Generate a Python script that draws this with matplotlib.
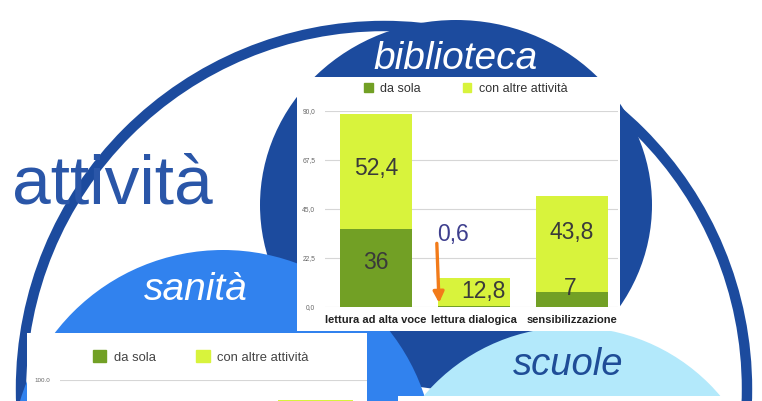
import numpy as np
import matplotlib
matplotlib.use("Agg")
import matplotlib.pyplot as plt
from matplotlib.patches import Ellipse, Circle, Rectangle, Patch

plt.rcParams['font.family'] = ['Liberation Sans', 'DejaVu Sans']

# biblioteca chart data
categories = ["lettura ad alta voce", "lettura dialogica", "sensibilizzazione"]
biblio_da_sola = [36.0, 0.6, 7.0]
biblio_con_altre = [52.4, 12.8, 43.8]
biblio_ticks = [0, 22.5, 45, 67.5, 90]
biblio_ticklabels = ["0,0", "22,5", "45,0", "67,5", "90,0"]

# sanita chart: only the top of the third bar is visible in the picture
sanita_totale = [np.nan, np.nan, 90.0]
sanita_ticks = [100]
sanita_ticklabels = ["100.0"]

legend_labels = ["da sola", "con altre attività"]

DARK_BLUE = "#1c4b9e"
MID_BLUE = "#3182ee"
LIGHT_BLUE = "#b3e9fb"
GREEN_DARK = "#72a025"
GREEN_LIGHT = "#d8f33c"

W, H = 762, 401


def fx(px):
    return px / W


def fy(py):
    return 1 - py / H


fig = plt.figure(figsize=(W / 100, H / 100), dpi=100)
bg = fig.add_axes([0, 0, 1, 1])
bg.set_xlim(0, W)
bg.set_ylim(H, 0)
bg.axis('off')

# outer ring and the three circles
bg.add_patch(Circle((384, 389), 363, fill=False, ec=DARK_BLUE, lw=7.5, zorder=1))
bg.add_patch(Ellipse((456, 205), 392, 370, fc=DARK_BLUE, ec='none', zorder=2))
bg.add_patch(Ellipse((223, 462), 424, 424, fc=MID_BLUE, ec='none', zorder=3))
bg.add_patch(Ellipse((572, 521), 388, 388, fc=LIGHT_BLUE, ec='none', zorder=3))

# white chart boxes
bg.add_patch(Rectangle((297, 77), 323, 254, fc='white', ec='none', zorder=5))
bg.add_patch(Rectangle((27, 333), 340, 80, fc='white', ec='none', zorder=5))
bg.add_patch(Rectangle((398, 396), 327, 20, fc='white', ec='none', zorder=5))

# titles
bg.text(12, 203, "attività", fontsize=50, color="#2a56a8", ha='left', va='baseline', zorder=6)
bg.text(456, 69, "biblioteca", fontsize=28, style='italic', color='white',
        ha='center', va='baseline', zorder=6)
bg.text(196, 300, "sanità", fontsize=28, style='italic', color='white',
        ha='center', va='baseline', zorder=6)
bg.text(568, 375, "scuole", fontsize=27.5, style='italic', color="#1f4d97",
        ha='center', va='baseline', zorder=6)

# ---- biblioteca chart ----
ax = fig.add_axes([fx(325), fy(307), (618 - 325) / W, (307 - 111) / H])
ax.patch.set_alpha(0)
x = np.arange(len(categories))
ax.bar(x, biblio_da_sola, width=0.735, color=GREEN_DARK, zorder=2)
ax.bar(x, biblio_con_altre, width=0.735, bottom=biblio_da_sola, color=GREEN_LIGHT, zorder=2)
ax.set_xlim(-0.52, 2.47)
ax.set_ylim(0, 90)
ax.set_yticks(biblio_ticks)
ax.set_yticklabels(biblio_ticklabels, fontsize=4.8, color='#666666')
ax.set_xticks(x)
ax.set_xticklabels(categories, fontsize=8, fontweight='bold', color='#222222')
ax.tick_params(axis='y', length=0, pad=7)
ax.tick_params(axis='x', length=0, pad=6)
ax.yaxis.grid(True, color='#d6d6d6', lw=0.8)
ax.set_axisbelow(True)
for s in ax.spines.values():
    s.set_visible(False)

# value labels (offsets in points)
nudge_low = [(0, 3.5), None, (-1.5, 7.5)]
nudge_high = [(0, 2.5), (6.5, 0), (0, 8)]
for i in range(len(categories)):
    if nudge_low[i] is not None:
        ax.annotate(f"{biblio_da_sola[i]:g}".replace('.', ','),
                    (x[i], biblio_da_sola[i] / 2), xytext=nudge_low[i],
                    textcoords='offset points', ha='center', va='center',
                    fontsize=16.5, color='#3a3a3a', zorder=4)
    ax.annotate(f"{biblio_con_altre[i]:g}".replace('.', ','),
                (x[i], biblio_da_sola[i] + biblio_con_altre[i] / 2), xytext=nudge_high[i],
                textcoords='offset points', ha='center', va='center',
                fontsize=16.5, color='#3a3a3a', zorder=4)

# small "da sola" value for lettura dialogica, with arrow
ax.text(0.786, 33.5, f"{biblio_da_sola[1]:g}".replace('.', ','), ha='center', va='center',
        fontsize=16.5, color='#3e3f8e', zorder=4)
ax.annotate('', xy=(0.645, biblio_da_sola[1]), xytext=(0.62, 30.5),
            arrowprops=dict(arrowstyle='-|>', color='#f27b1a', lw=2.4, mutation_scale=16),
            zorder=5)

handles = [Patch(color=GREEN_DARK), Patch(color=GREEN_LIGHT)]
ax.legend(handles, legend_labels, loc='center', bbox_to_anchor=(fx(466), fy(89)),
          bbox_transform=fig.transFigure, ncol=2, frameon=False, fontsize=9,
          handlelength=0.65, handleheight=0.65, handletextpad=0.6, columnspacing=3.4,
          labelcolor='#333333')

# ---- sanita chart ----
ax2 = fig.add_axes([fx(60), fy(580), (367 - 60) / W, (580 - 380) / H])
ax2.patch.set_alpha(0)
ax2.bar(np.arange(3), sanita_totale, width=0.73, color=GREEN_LIGHT, zorder=2)
ax2.set_xlim(-0.5, 2.5)
ax2.set_ylim(0, 100)
ax2.set_yticks(sanita_ticks)
ax2.set_yticklabels(sanita_ticklabels, fontsize=4.5, color='#666666')
ax2.set_xticks([])
ax2.tick_params(axis='y', length=0, pad=7)
ax2.yaxis.grid(True, color='#d6d6d6', lw=0.8)
ax2.set_axisbelow(True)
for s in ax2.spines.values():
    s.set_visible(False)
ax2.legend(handles, legend_labels, loc='center', bbox_to_anchor=(fx(201), fy(357)),
           bbox_transform=fig.transFigure, ncol=2, frameon=False, fontsize=9.4,
           handlelength=1.0, handleheight=1.0, handletextpad=0.6, columnspacing=3.1,
           labelcolor='#444444')

fig.savefig("out.png", dpi=100)
